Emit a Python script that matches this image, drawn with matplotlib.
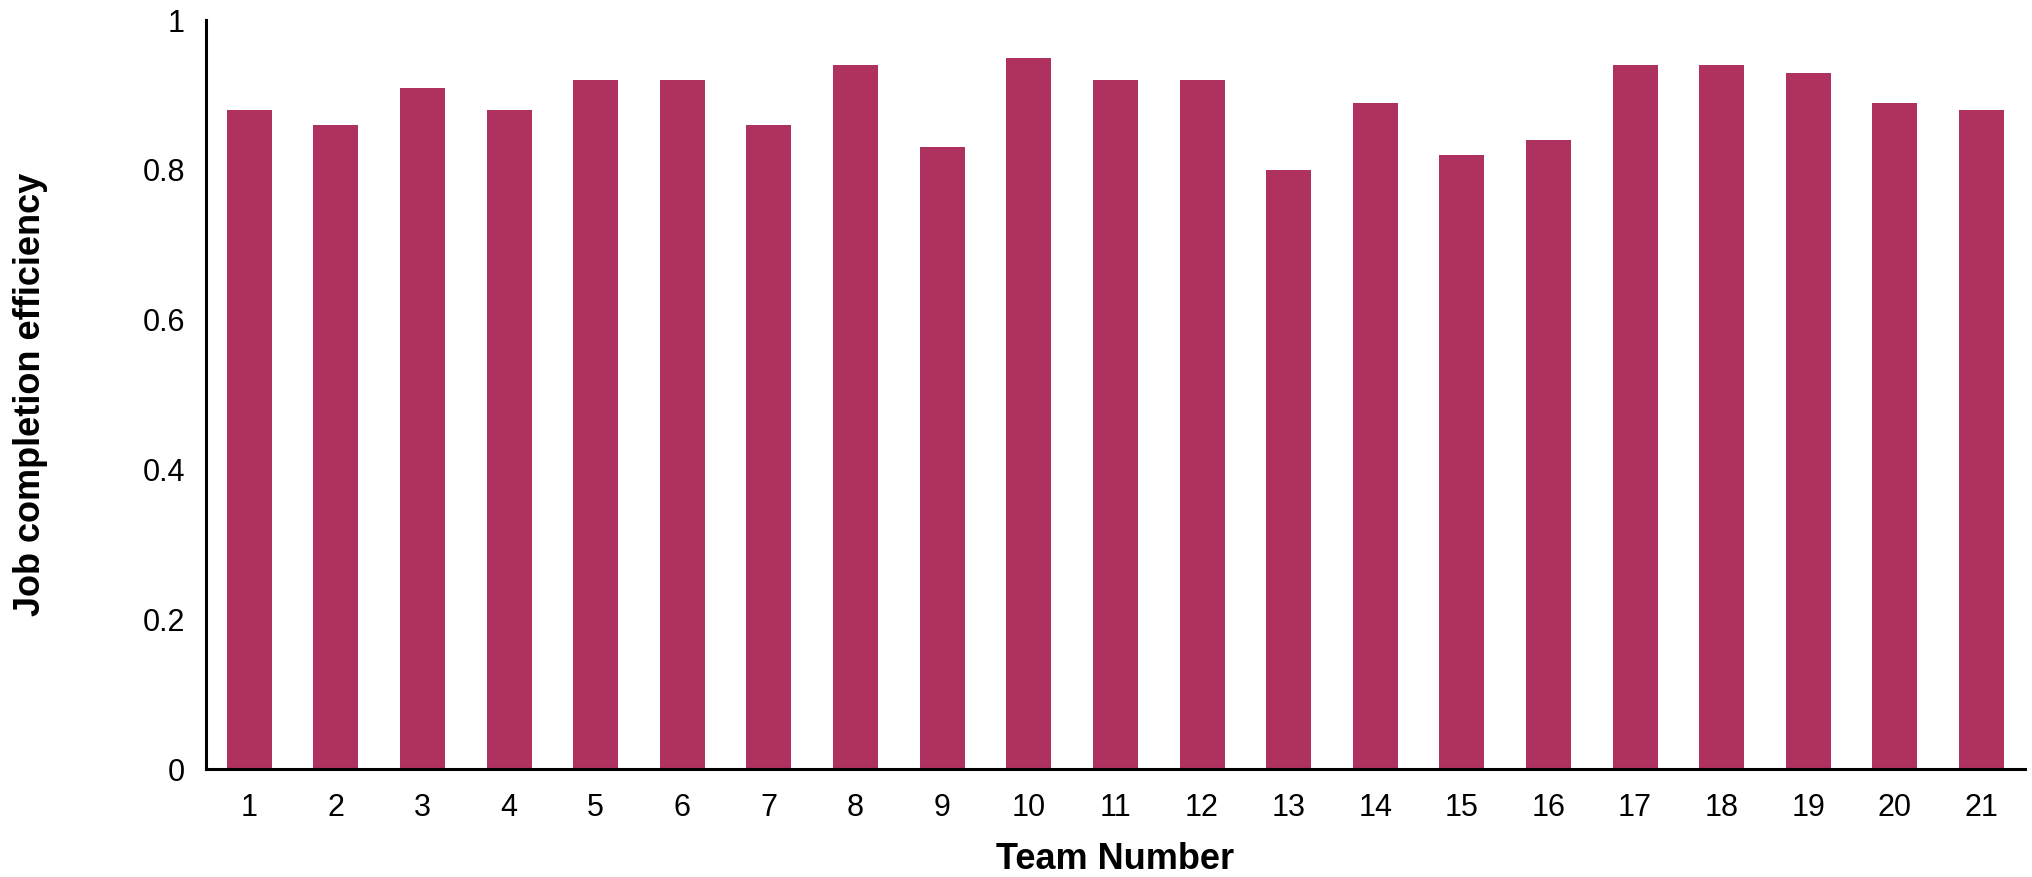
import matplotlib.pyplot as plt
import numpy as np

plt.rcParams['font.family'] = ['Liberation Sans', 'DejaVu Sans']

# team numbers and their job completion efficiency
teams = [str(i) for i in range(1, 22)]
efficiency = [0.88, 0.86, 0.91, 0.88, 0.92, 0.92, 0.86, 0.94, 0.83, 0.95, 0.92,
              0.92, 0.80, 0.89, 0.82, 0.84, 0.94, 0.94, 0.93, 0.89, 0.88]
yticks = [0, 0.2, 0.4, 0.6, 0.8, 1]
yticklabels = ['0', '0.2', '0.4', '0.6', '0.8', '1']

fig = plt.figure(figsize=(20.33, 8.77), dpi=100)
ax = fig.add_axes([0.1013, 0.123, 0.8947, 0.854])

x = np.arange(len(teams))
ax.bar(x, efficiency, width=0.52, color='#AF3160')

ax.set_xlim(-0.5, len(teams) - 0.5)
ax.set_ylim(0, 1)
ax.set_xticks(x)
ax.set_xticklabels(teams)
ax.set_yticks(yticks)
ax.set_yticklabels(yticklabels)
ax.tick_params(axis='both', length=0, labelsize=22)
ax.tick_params(axis='x', pad=17)
ax.tick_params(axis='y', pad=15)

for side in ['top', 'right']:
    ax.spines[side].set_visible(False)
for side in ['left', 'bottom']:
    ax.spines[side].set_linewidth(2.2)

ax.set_xlabel('Team Number', fontsize=26, fontweight='bold', labelpad=14)
ax.set_ylabel('Job completion efficiency', fontsize=26, fontweight='bold')
ax.yaxis.set_label_coords(-0.087, 0.5)

fig.savefig('out.png', dpi=100)
